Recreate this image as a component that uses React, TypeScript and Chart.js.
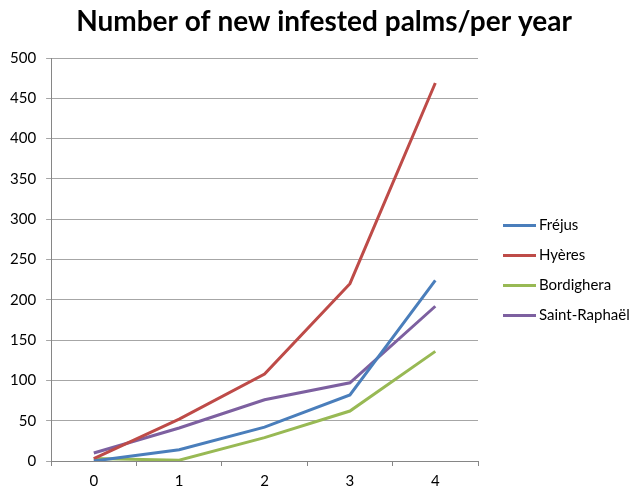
import React, { useEffect, useRef } from "react";
import { Chart, registerables } from "chart.js";

Chart.register(...registerables);

const years = ["0", "1", "2", "3", "4"];
const frejus = [0, 14, 42, 82, 224];
const hyeres = [3, 52, 108, 220, 469];
const bordighera = [3, 1, 29, 62, 136];
const saintRaphael = [10, 41, 76, 97, 192];

const seriesNames = ["Fréjus", "Hyères", "Bordighera", "Saint-Raphaël"];
const seriesColors = ["#4A7EBB", "#BE4B48", "#98B954", "#7D60A0"];
const chartTitle = "Number of new infested palms/per year";

const FONT = "Lato, 'Open Sans', sans-serif";

// Heading centred across the whole canvas (plot plus legend column).
const wideTitle = {
  id: "wideTitle",
  afterDraw(chart: any) {
    const { ctx, width } = chart;
    ctx.save();
    ctx.font = `bold 28px ${FONT}`;
    ctx.fillStyle = "#000";
    ctx.textAlign = "center";
    ctx.textBaseline = "middle";
    ctx.fillText(chartTitle, width / 2 + 6, 22);
    ctx.restore();
  },
};

// Legend drawn to the right of the plot, vertically around its middle.
const sideLegend = {
  id: "sideLegend",
  afterDraw(chart: any) {
    const { ctx, chartArea } = chart;
    const rowGap = 30;
    const count = chart.data.datasets.length;
    const midY = (chartArea.top + chartArea.bottom) / 2 + 11;
    const startY = midY - ((count - 1) * rowGap) / 2;
    const lineX = chartArea.right + 25;
    const lineLen = 33;
    ctx.save();
    ctx.font = `15px ${FONT}`;
    ctx.textBaseline = "middle";
    ctx.textAlign = "left";
    chart.data.datasets.forEach((ds: any, i: number) => {
      const y = startY + i * rowGap;
      ctx.strokeStyle = ds.borderColor;
      ctx.lineWidth = 3;
      ctx.beginPath();
      ctx.moveTo(lineX, y);
      ctx.lineTo(lineX + lineLen, y);
      ctx.stroke();
      ctx.fillStyle = "#000";
      ctx.fillText(ds.label, lineX + lineLen + 3, y);
    });
    ctx.restore();
  },
};

export default function App() {
  const canvasRef = useRef<HTMLCanvasElement | null>(null);

  useEffect(() => {
    document.body.style.margin = "0";
    const canvas = canvasRef.current;
    if (!canvas) return;
    const values = [frejus, hyeres, bordighera, saintRaphael];
    const chart = new Chart(canvas, {
      type: "line",
      data: {
        labels: years,
        datasets: values.map((v, i) => ({
          label: seriesNames[i],
          data: v,
          borderColor: seriesColors[i],
          backgroundColor: seriesColors[i],
          borderWidth: 3,
          pointRadius: 0,
          tension: 0,
        })),
      },
      options: {
        responsive: false,
        animation: false,
        layout: { padding: { left: 0, right: 158, top: 58, bottom: -6 } },
        plugins: {
          title: { display: false },
          legend: { display: false },
          tooltip: { enabled: false },
        },
        scales: {
          x: {
            offset: true,
            grid: {
              display: true,
              drawOnChartArea: false,
              color: "#868686",
              tickLength: 5,
              offset: true,
            },
            border: { color: "#868686", width: 1 },
            ticks: { color: "#000", font: { family: FONT, size: 15 }, padding: 6 },
          },
          y: {
            min: 0,
            max: 500,
            ticks: {
              stepSize: 50,
              color: "#000",
              font: { family: FONT, size: 15 },
              padding: 10,
            },
            grid: { color: "#A6A6A6", tickLength: 5 },
            border: { color: "#868686", width: 1 },
          },
        },
      },
      plugins: [wideTitle, sideLegend],
    });
    return () => chart.destroy();
  }, []);

  return (
    <div style={{ width: 636, height: 490 }}>
      <canvas ref={canvasRef} width={636} height={490} />
    </div>
  );
}
